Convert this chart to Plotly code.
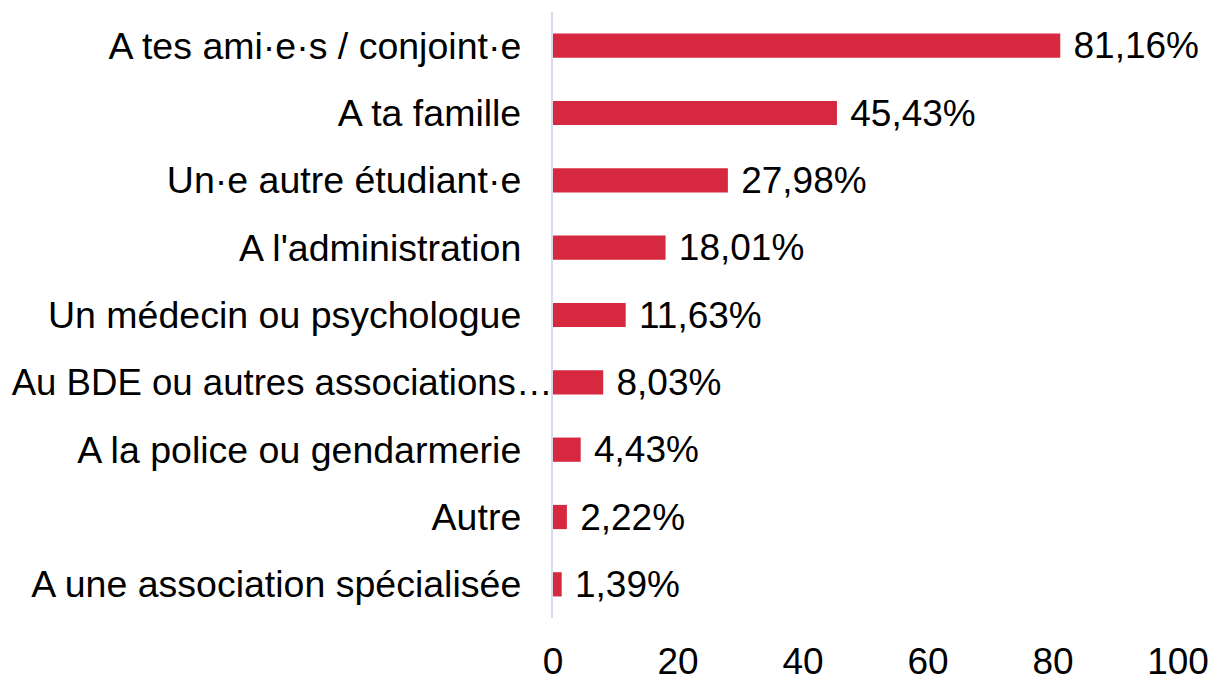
import plotly.graph_objects as go

categories = [
    "A tes ami·e·s / conjoint·e",
    "A ta famille",
    "Un·e autre étudiant·e",
    "A l'administration",
    "Un médecin ou psychologue",
    "Au BDE ou autres associations…",
    "A la police ou gendarmerie",
    "Autre",
    "A une association spécialisée",
]
values = [81.16, 45.43, 27.98, 18.01, 11.63, 8.03, 4.43, 2.22, 1.39]
x_ticks = [0, 20, 40, 60, 80, 100]

labels = ["\u00a0" + f"{v:.2f}".replace(".", ",") + "%" for v in values]
# truncated labels run up to the axis in the reference; others keep a gap
tick_text = [
    f'<span style="font-size:36.6px">{c}</span>' if c.endswith("…") else c + "\u00a0" * 3
    for c in categories
]

FONT = "Liberation Sans, Arial, sans-serif"

fig = go.Figure(
    go.Bar(
        y=categories,
        x=values,
        orientation="h",
        marker=dict(color="#D6283F", line=dict(width=0)),
        text=labels,
        textposition="outside",
        constraintext="none",
        textfont=dict(size=37, color="#000000", family=FONT),
        cliponaxis=False,
    )
)

# page body has an 8px margin, so the figure is offset by 8px
fig.update_layout(
    width=1221,
    height=676,
    margin=dict(l=545, r=51, t=4, b=66, autoexpand=False),
    plot_bgcolor="white",
    paper_bgcolor="white",
    bargap=0.64,
    showlegend=False,
    font=dict(family=FONT, size=37, color="#000000"),
    xaxis=dict(
        range=[0, 100],
        tickvals=x_ticks,
        showgrid=False,
        zeroline=False,
        showline=False,
        ticks="",
        ticklabelstandoff=18,
        automargin=False,
        tickfont=dict(size=37),
    ),
    yaxis=dict(
        autorange="reversed",
        tickmode="array",
        tickvals=categories,
        ticktext=tick_text,
        showgrid=False,
        zeroline=False,
        showline=True,
        linecolor="#D9D9F0",
        linewidth=2,
        ticks="",
        ticklabelstandoff=-9,
        automargin=False,
        tickfont=dict(size=37.5),
    ),
)

fig.write_html("out.html")
